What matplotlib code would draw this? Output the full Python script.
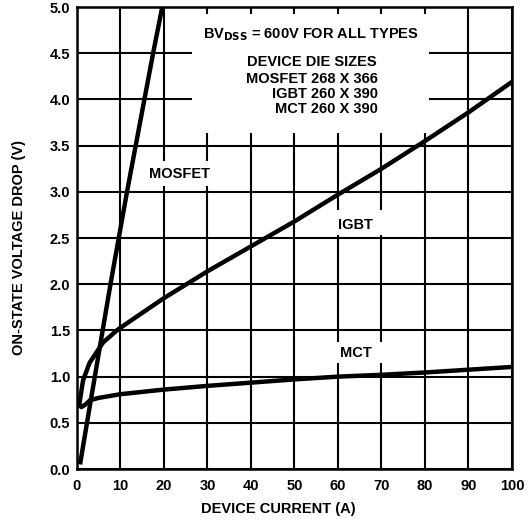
import matplotlib.pyplot as plt
from matplotlib.patches import Rectangle

plt.rcParams['font.family'] = ['Liberation Sans', 'DejaVu Sans']
plt.rcParams['font.weight'] = 'bold'
plt.rcParams['font.size'] = 10.5

# curves
mosfet_i = [0.7, 2.3, 4.1, 5.9, 7.7, 9.6, 11.5, 13.5, 15.5, 17.5, 19.6]
mosfet_v = [0.05, 0.5, 1.0, 1.5, 2.0, 2.5, 3.0, 3.5, 4.0, 4.5, 5.0]

igbt_i = [0.5, 1.4, 2.9, 6.0, 9.4, 15, 20, 30, 40, 50, 60, 70, 80, 90, 100]
igbt_v = [0.69, 0.96, 1.15, 1.37, 1.51, 1.69, 1.85, 2.14, 2.41, 2.68,
          2.97, 3.25, 3.55, 3.86, 4.19]

mct_i = [0.5, 1.0, 2.0, 3.0, 5, 10, 20, 30, 40, 50, 60, 70, 80, 90, 100]
mct_v = [0.70, 0.67, 0.70, 0.745, 0.77, 0.81, 0.86, 0.90, 0.935, 0.97, 1.0,
         1.02, 1.045, 1.075, 1.105]

x_ticks = list(range(0, 101, 10))
y_ticks = [0.0, 0.5, 1.0, 1.5, 2.0, 2.5, 3.0, 3.5, 4.0, 4.5, 5.0]

fig = plt.figure(figsize=(5.32, 5.20), dpi=100)
ax = fig.add_axes([0.1447, 0.098, 0.8177, 0.8885])

ax.set_xlim(0, 100)
ax.set_ylim(0, 5.0)
ax.set_xticks(x_ticks)
ax.set_yticks(y_ticks)
ax.set_yticklabels([f'{v:.1f}' for v in y_ticks])
ax.tick_params(length=0)
ax.tick_params(axis='x', pad=7)
ax.tick_params(axis='y', pad=5)
ax.set_axisbelow(True)
ax.grid(True, color='black', linewidth=1.5)
for s in ax.spines.values():
    s.set_linewidth(1.8)

# white areas behind the labels, cutting the grid
ax.add_patch(Rectangle((26.5, 3.64), 54.5, 1.28, facecolor='white', edgecolor='none'))
ax.add_patch(Rectangle((16.5, 3.06), 14.3, 0.27, facecolor='white', edgecolor='none'))
ax.add_patch(Rectangle((59.2, 2.53), 11.5, 0.27, facecolor='white', edgecolor='none'))
ax.add_patch(Rectangle((59.2, 1.15), 11.5, 0.23, facecolor='white', edgecolor='none'))

lw = 3.2
ax.plot(mosfet_i, mosfet_v, color='black', linewidth=lw, solid_capstyle='butt')
ax.plot(igbt_i, igbt_v, color='black', linewidth=lw, solid_capstyle='butt')
ax.plot(mct_i, mct_v, color='black', linewidth=lw, solid_capstyle='butt')

ax.text(53.8, 4.70, r'BV$_{\mathbf{DSS}}$ = 600V FOR ALL TYPES', ha='center', va='center')
ax.text(54.0, 4.40, 'DEVICE DIE SIZES', ha='center', va='center')
ax.text(69.2, 4.22, 'MOSFET 268 X 366', ha='right', va='center')
ax.text(69.2, 4.06, 'IGBT 260 X 390', ha='right', va='center')
ax.text(69.2, 3.90, 'MCT 260 X 390', ha='right', va='center')

ax.text(23.5, 3.19, 'MOSFET', ha='center', va='center')
ax.text(63.9, 2.64, 'IGBT', ha='center', va='center')
ax.text(64.1, 1.26, 'MCT', ha='center', va='center')

ax.set_xlabel('DEVICE CURRENT (A)', fontweight='bold')
ax.set_ylabel('ON-STATE VOLTAGE DROP (V)', fontweight='bold')
ax.xaxis.set_label_coords(0.462, -0.071)
ax.yaxis.set_label_coords(-0.117, 0.48)

fig.savefig('out.png', dpi=100)
